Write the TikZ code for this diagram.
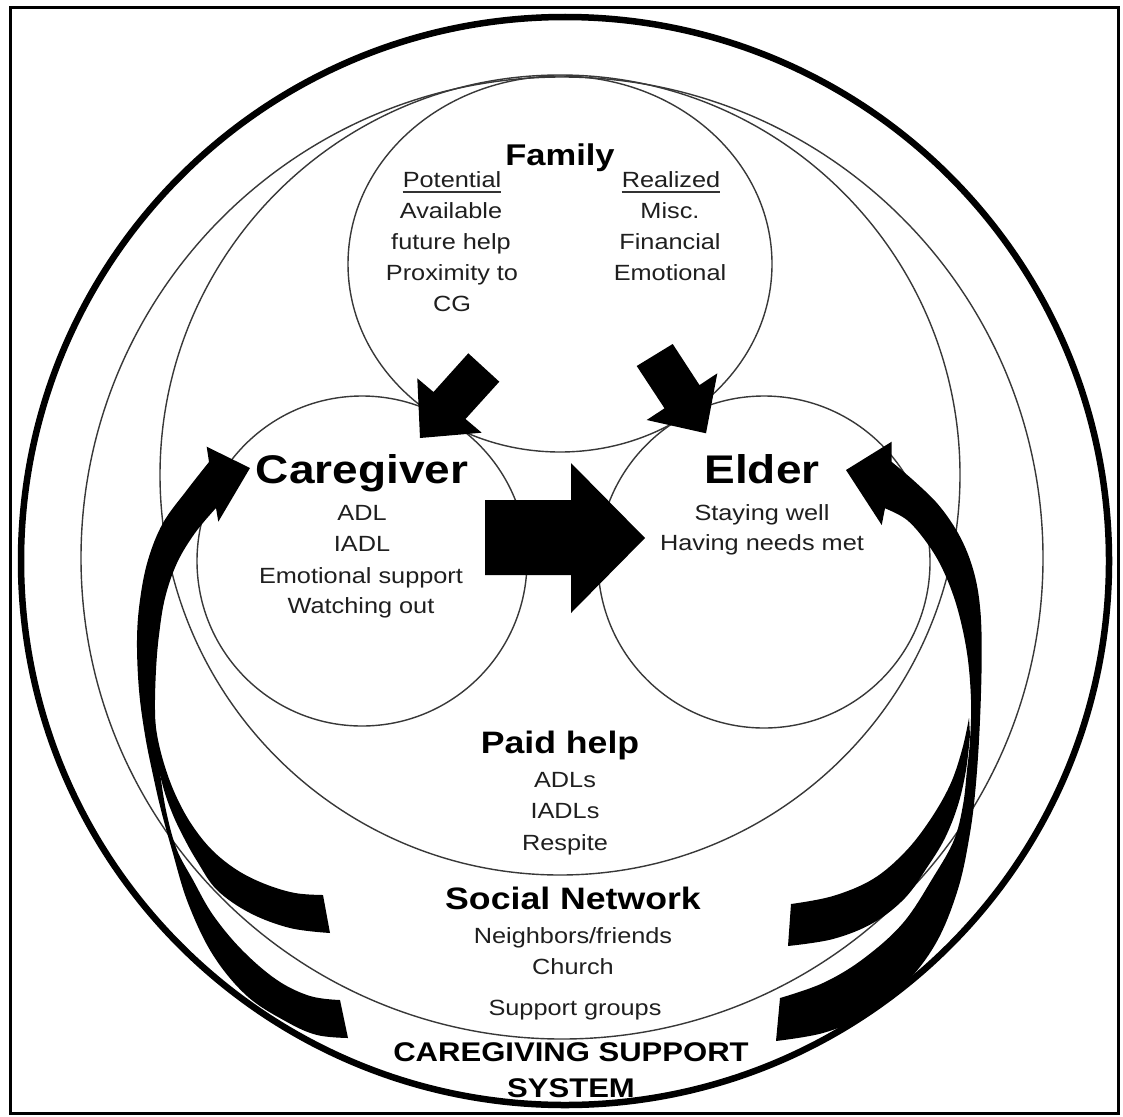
\documentclass[tikz,border=0pt]{standalone}
\usepackage{fontspec}
\setmainfont{Liberation Sans}[FakeStretch=1.15]
\begin{document}
\begin{tikzpicture}[x=1pt,y=-1pt,
  ring/.style={draw=black!78,line width=1.4},
  lbl/.style={inner sep=0pt,anchor=base,text=black!88,font=\fontsize{22}{26}\selectfont},
  ttl/.style={inner sep=0pt,anchor=base,text=black,font=\bfseries\fontsize{31}{36}\selectfont},
  big/.style={inner sep=0pt,anchor=base,text=black,font=\bfseries\fontsize{40}{48}\selectfont},
  sys/.style={inner sep=0pt,anchor=base,text=black,font=\bfseries\fontsize{27}{32}\selectfont},
  uline/.style={draw=black!80,line width=1.6},
  blk/.style={fill=black}]
\useasboundingbox (0,0) rectangle (1123,1116);
\fill[white] (0,0) rectangle (1123,1116);
% frame and rings
\draw[line width=3] (10,8) rectangle (1118,1113);
\draw[line width=6.5] (565,561) circle [radius=544];
\draw[ring] (562,558) circle [radius=481];
\draw[ring] (560,475) circle [radius=400];
\draw[ring] (560,264) ellipse [x radius=212, y radius=188];
\draw[ring] (362,561) circle [radius=165];
\draw[ring] (764,562) circle [radius=166];
% central block arrow
\fill[blk] (485,500) -- (571,500) -- (571,463) -- (645,538) -- (571,613) -- (571,575) -- (485,575) -- cycle;
% family arrows
\fill[blk] (468.3,353.3) -- (499.3,381.7) -- (465.5,419) -- (481.7,432.7) -- (420,438) -- (417.3,378.3) -- (433.5,392) -- cycle;
\fill[blk] (636.7,366) -- (672.7,344) -- (699.5,385.1) -- (717.3,373.3) -- (706,433.3) -- (646.7,420) -- (664.5,408.3) -- cycle;
% left curved arrows
\fill[blk] (209,462) -- plot[smooth,tension=0.6] coordinates {(209,462) (187,490) (163,523) (148,560) (140,600) (137,640) (139,690) (145,735) (153,775) (161,810) (172,850) (188,903) (213,955) (247,996) (287,1022) (317,1035) (348,1038)} -- (340,1000) -- plot[smooth,tension=0.6] coordinates {(340,1000) (310,996) (277,980) (242,950) (213,915) (193,880) (177,850) (167,815) (161,780) (157,745) (155,710) (156,670) (159,635) (165,598) (177,563) (195,533) (216,508)} -- (218.3,521.7) -- (250,468) -- (206.7,446.7) -- cycle;
\fill[blk] (323,895) -- plot[smooth,tension=0.6] coordinates {(323,895) (295,893) (265,884) (237,870) (212,850) (192,825) (177,798) (166,770) (158,740) (154,712)} -- plot[smooth,tension=0.6] coordinates {(153,725) (157,760) (164,790) (173,815) (184,838) (197,861) (217,890) (250,913) (290,928) (330,933)} -- cycle;
% right curved arrows
\fill[blk] (891.5,461.7) -- plot[smooth,tension=0.6] coordinates {(891.5,461.7) (916.7,483.3) (940,506.7) (960,536.7) (973.3,570) (980,606.7) (981.7,653.3) (980,720) (976,783) (970,833) (958,889) (936,943) (903,986) (863,1016) (823,1033) (776,1041)} -- (780,998) -- plot[smooth,tension=0.6] coordinates {(780,998) (823,983) (863,959) (903,923) (934,876) (954,840) (963,805) (967,770) (970,740) (971,700) (967,653) (957,607) (943,570) (927,543) (907,520) (885,508.3)} -- (881.7,525) -- (846,470) -- (891.7,441.7) -- cycle;
\fill[blk] (791,904) -- plot[smooth,tension=0.6] coordinates {(791,904) (833,896) (873,879) (905,852) (930,820) (950,785) (962,750) (969,718)} -- plot[smooth,tension=0.6] coordinates {(970,735) (966,770) (958,805) (945,838) (928,866) (905,898) (873,923) (833,939) (788,946)} -- cycle;
% Family
\node[ttl,font=\bfseries\fontsize{30}{36}\selectfont] (fam) at (560,165) {Family};
\node[lbl] (pot) at (452,187) {Potential};
\node[lbl] (rea) at (671,187) {Realized};
\draw[uline] ([yshift=-5pt]pot.base west) -- ([yshift=-5pt]pot.base east);
\draw[uline] ([yshift=-5pt]rea.base west) -- ([yshift=-5pt]rea.base east);
\node[lbl] (p1) at (451,218) {Available};
\node[lbl] (p2) at (451,249) {future help};
\node[lbl] (p3) at (452,280) {Proximity to};
\node[lbl] (p4) at (452,311) {CG};
\node[lbl] (r1) at (670,218) {Misc.};
\node[lbl] (r2) at (670,249) {Financial};
\node[lbl] (r3) at (670,280) {Emotional};
% Caregiver
\node[big] (cg) at (362,483) {Caregiver};
\node[lbl] (c1) at (362,520) {ADL};
\node[lbl] (c2) at (362,551) {IADL};
\node[lbl] (c3) at (361,583) {Emotional support};
\node[lbl] (c4) at (361,613) {Watching out};
% Elder
\node[big] (el) at (762,483) {Elder};
\node[lbl] (e1) at (762,520) {Staying well};
\node[lbl] (e2) at (762,550) {Having needs met};
% Paid help
\node[ttl] (ph) at (560,753) {Paid help};
\node[lbl] (h1) at (565,787) {ADLs};
\node[lbl] (h2) at (565,818) {IADLs};
\node[lbl] (h3) at (565,850) {Respite};
% Social network
\node[ttl] (sn) at (573,909) {Social Network};
\node[lbl] (s1) at (573,943.5) {Neighbors/friends};
\node[lbl] (s2) at (573,974) {Church};
\node[lbl] (s3) at (575,1015) {Support groups};
% system
\node[sys] (cs1) at (571,1061) {CAREGIVING SUPPORT};
\node[sys] (cs2) at (571,1097) {SYSTEM};
\end{tikzpicture}
\end{document}
